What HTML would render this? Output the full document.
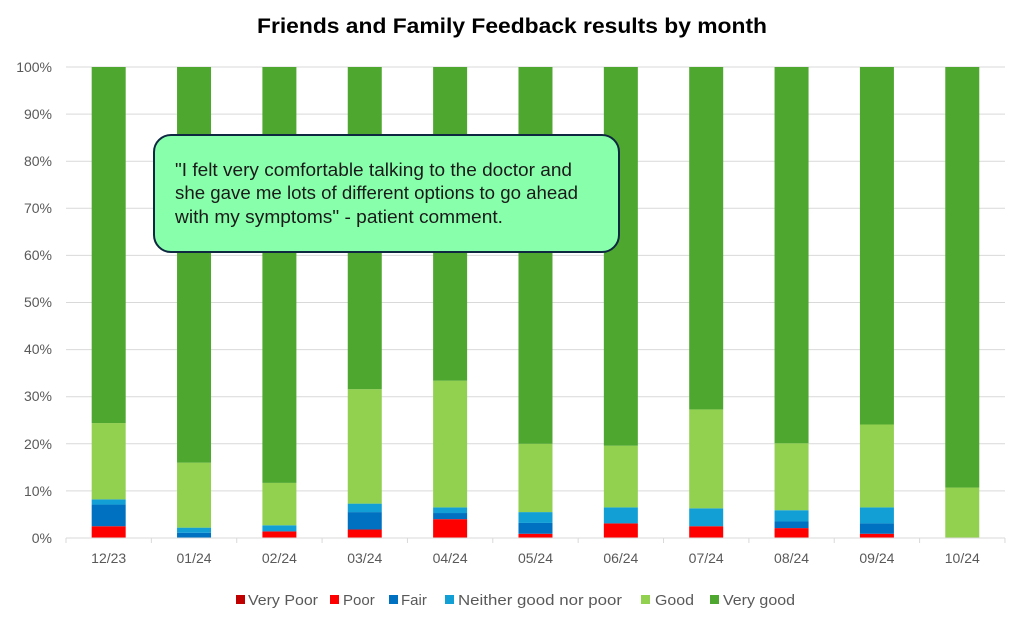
<!DOCTYPE html>
<html><head><meta charset="utf-8"><style>
body{margin:0;background:#fff;}
svg text{font-family:"Liberation Sans",sans-serif;}
</style></head><body>
<svg width="1024" height="618" viewBox="0 0 1024 618" xmlns="http://www.w3.org/2000/svg">
<rect width="1024" height="618" fill="#fff"/>
<text x="512" y="33" text-anchor="middle" font-size="21" font-weight="bold" fill="#000" textLength="510" lengthAdjust="spacingAndGlyphs">Friends and Family Feedback results by month</text>
<g stroke="#d9d9d9" stroke-width="1">
<line x1="66" x2="1005" y1="67" y2="67"/><line x1="66" x2="1005" y1="114.1" y2="114.1"/>
<line x1="66" x2="1005" y1="161.2" y2="161.2"/><line x1="66" x2="1005" y1="208.3" y2="208.3"/>
<line x1="66" x2="1005" y1="255.4" y2="255.4"/><line x1="66" x2="1005" y1="302.5" y2="302.5"/>
<line x1="66" x2="1005" y1="349.6" y2="349.6"/><line x1="66" x2="1005" y1="396.7" y2="396.7"/>
<line x1="66" x2="1005" y1="443.8" y2="443.8"/><line x1="66" x2="1005" y1="490.9" y2="490.9"/>
<line x1="66" x2="1005" y1="538" y2="538"/>
</g>
<g font-size="14" fill="#595959" text-anchor="end">
<text x="52" y="72">100%</text><text x="52" y="119">90%</text><text x="52" y="166">80%</text>
<text x="52" y="213">70%</text><text x="52" y="260">60%</text><text x="52" y="307">50%</text>
<text x="52" y="354">40%</text><text x="52" y="401">30%</text><text x="52" y="449">20%</text>
<text x="52" y="496">10%</text><text x="52" y="543">0%</text>
</g>
<g id="bars"></g>
<g stroke="#d9d9d9"><line x1="66" x2="1005" y1="538" y2="538"/></g>
<g id="ticks" stroke="#d9d9d9"></g>
<g id="xl" font-size="14" fill="#595959" text-anchor="middle"></g>
<rect x="154" y="135" width="465" height="117" rx="17" fill="#88FFAA" stroke="#0e2841" stroke-width="2"/>
<g font-size="18" fill="#1a1a1a">
<text x="175" y="176" textLength="397" lengthAdjust="spacingAndGlyphs">"I felt very comfortable talking to the doctor and</text>
<text x="175" y="199" textLength="403" lengthAdjust="spacingAndGlyphs">she gave me lots of different options to go ahead</text>
<text x="175" y="223" textLength="328" lengthAdjust="spacingAndGlyphs">with my symptoms" - patient comment.</text>
</g>
<g font-size="15" fill="#595959">
<rect x="236" y="595" width="9" height="9" fill="#c00000"/><text x="248" y="605" textLength="70" lengthAdjust="spacingAndGlyphs">Very Poor</text>
<rect x="330" y="595" width="9" height="9" fill="#ff0000"/><text x="343" y="605">Poor</text>
<rect x="389" y="595" width="9" height="9" fill="#0070c0"/><text x="401" y="605">Fair</text>
<rect x="445" y="595" width="9" height="9" fill="#119fd6"/><text x="458" y="605" textLength="164" lengthAdjust="spacingAndGlyphs">Neither good nor poor</text>
<rect x="641" y="595" width="9" height="9" fill="#92d050"/><text x="655" y="605" textLength="39" lengthAdjust="spacingAndGlyphs">Good</text>
<rect x="710" y="595" width="9" height="9" fill="#4ea72e"/><text x="723" y="605" textLength="72" lengthAdjust="spacingAndGlyphs">Very good</text>
</g>
<script>
var d=[["12/23",2.5,7.1,8.2,24.4],["01/24",0,1.1,2.2,16],["02/24",1.4,1.4,2.7,11.7],["03/24",1.8,5.5,7.3,31.6],["04/24",4,5.3,6.5,33.4],["05/24",0.9,3.2,5.5,20],["06/24",3.1,3.1,6.5,19.6],["07/24",2.5,2.5,6.3,27.3],["08/24",2.1,3.5,5.9,20.1],["09/24",0.9,3.1,6.5,24.1],["10/24",0,0,0,10.7]];
var cols=["#ff0000","#0070c0","#119fd6","#92d050","#4ea72e"];
var ns="http://www.w3.org/2000/svg",b=document.getElementById("bars"),t=document.getElementById("ticks"),xl=document.getElementById("xl");
var s=4.71,base=538,cw=85.36;
function y(v){return base-v*s;}
for(var i=0;i<11;i++){var cx=66+cw*(i+0.5);var c=[0].concat(d[i].slice(1)).concat([100]);
for(var k=0;k<5;k++){var lo=c[k],hi=c[k+1];if(hi-lo<=0)continue;var r=document.createElementNS(ns,"rect");
r.setAttribute("x",cx-17);r.setAttribute("width",34);r.setAttribute("y",y(hi));r.setAttribute("height",(hi-lo)*s);r.setAttribute("fill",cols[k]);b.appendChild(r);}
var tx=document.createElementNS(ns,"text");tx.setAttribute("x",cx);tx.setAttribute("y",563);tx.textContent=d[i][0];xl.appendChild(tx);}
for(var i=0;i<=11;i++){var l=document.createElementNS(ns,"line");var x=66+cw*i;l.setAttribute("x1",x);l.setAttribute("x2",x);l.setAttribute("y1",538);l.setAttribute("y2",543);t.appendChild(l);}
</script>
</svg>
</body></html>
